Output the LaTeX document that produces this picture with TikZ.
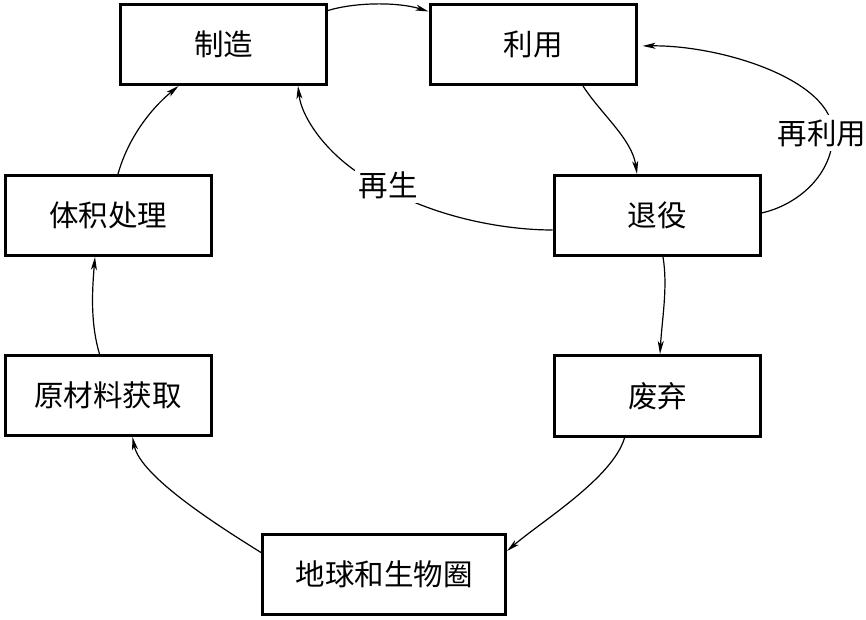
\documentclass[tikz,border=0pt]{standalone}
\usepackage{fontspec}
\newfontfamily\cjk{Noto Sans CJK SC}
\usetikzlibrary{arrows.meta}
\begin{document}
\begin{tikzpicture}[x=1pt,y=1pt,
  box/.style={draw,line width=3pt,minimum width=206pt,minimum height=80pt,inner sep=0pt,
    font=\cjk\fontsize{29.5}{30}\selectfont},
  conn/.style={line width=1.2pt,-{Stealth[length=13pt,width=6pt,inset=3.5pt]}},
  lbl/.style={fill=white,inner sep=4pt,font=\cjk\fontsize{29.5}{30}\selectfont}]
\useasboundingbox[fill=white] (0,0) rectangle (866,619);
\node[box] (zz) at (223.5,574.5) {制造};
\node[box] (ly) at (533,574.5) {利用};
\node[box] (tj) at (108,403.5) {体积处理};
\node[box] (ty) at (657,403.5) {退役};
\node[box] (ycl) at (108,223.5) {原材料获取};
\node[box,minimum height=81pt] (fq) at (657.5,223) {废弃};
\node[box,minimum width=243pt] (dq) at (384,44.5) {地球和生物圈};
\coordinate (rp) at (833,486);
\coordinate (gp) at (382,433);
% manufacture -> use
\draw[conn] ([yshift=34pt]zz.east) .. controls +(28,8.5) and +(-30,9.5) .. ([yshift=33pt]ly.west);
% use -> retire
\draw[conn] ([xshift=50pt]ly.south) .. controls +(18,-28) and +(-5,35) .. ([xshift=-20pt]ty.north);
% retire -> use (reuse)
\draw[conn,shorten >=5pt] ([yshift=2.5pt]ty.east) .. controls +(36,8) and +(0,-42) .. (rp)
  .. controls +(0,53) and +(84,1) .. ([yshift=-1.5pt]ly.east);
% retire -> manufacture (regenerate)
\draw[conn] ([yshift=-14.5pt]ty.west) .. controls +(-53.5,0) and +(48,-29) .. (gp)
  .. controls +(-47,21) and +(4,-35.5) .. ([xshift=74.5pt]zz.south);
% volume treatment -> manufacture
\draw[conn] ([xshift=10pt]tj.north) .. controls +(10,35.5) and +(-28.5,-23.5) .. ([xshift=-45pt]zz.south);
% raw material -> volume treatment
\draw[conn] ([xshift=-8.5pt]ycl.north) .. controls +(-9,30) and +(-3,-35) .. ([xshift=-13pt]tj.south);
% retire -> discard
\draw[conn] ([xshift=6pt]ty.south) .. controls +(5,-30) and +(2,35) .. ([xshift=2.5pt]fq.north);
% discard -> earth
\draw[conn] ([xshift=-33pt]fq.south) .. controls +(-12,-40) and +(35,30) .. ([yshift=23.5pt]dq.east);
% earth -> raw material
\draw[conn] ([yshift=22pt]dq.west) .. controls +(-40,25) and +(8,-40) .. ([xshift=24.5pt]ycl.south);
\node[lbl] (reuse) at (822,486) {再利用};
\node[lbl] (regen) at (388,434) {再生};
\end{tikzpicture}
\end{document}
